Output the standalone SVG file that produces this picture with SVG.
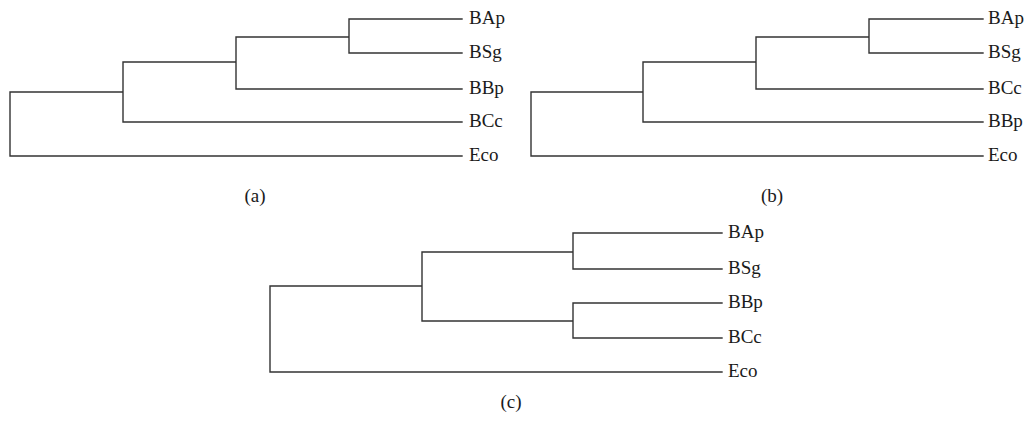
<svg xmlns="http://www.w3.org/2000/svg" width="1026" height="423" viewBox="0 0 1026 423">
<style>
.e{fill:none;stroke:#333;stroke-width:1.4;stroke-linecap:square}
.t{font-family:"Liberation Serif",serif;font-size:19px;fill:#1a1a1a}
.c{font-family:"Liberation Serif",serif;font-size:19px;fill:#1a1a1a;text-anchor:middle}
</style>
<rect width="1026" height="423" fill="#fff"/>
<g id="connectors">
<path class="e" d="M349,19H462M349,53H462M349,19V53M236,37H349M236,89H462M236,37V89M123,62H236M123,122H462M123,62V122M10,92H123M10,156H462M10,92V156"/>
<path class="e" d="M869,19H983M869,53H983M869,19V53M756,37H869M756,89H983M756,37V89M643,62H756M643,122H983M643,62V122M531,92H643M531,156H983M531,92V156"/>
<path class="e" d="M573,233H722M573,269H722M573,233V269M573,303H722M573,338H722M573,303V338M422,252H573M422,321H573M422,252V321M270,286H422M270,372H722M270,286V372"/>
</g>
<g id="tree-a">
<text class="t" x="469" y="24">BAp</text>
<text class="t" x="469" y="58">BSg</text>
<text class="t" x="469" y="94">BBp</text>
<text class="t" x="469" y="127">BCc</text>
<text class="t" x="469" y="161">Eco</text>
<text class="c" x="255" y="202">(a)</text>
</g>
<g id="tree-b">
<text class="t" x="988" y="24">BAp</text>
<text class="t" x="988" y="58">BSg</text>
<text class="t" x="988" y="94">BCc</text>
<text class="t" x="988" y="127">BBp</text>
<text class="t" x="988" y="161">Eco</text>
<text class="c" x="772" y="202">(b)</text>
</g>
<g id="tree-c">
<text class="t" x="728" y="238">BAp</text>
<text class="t" x="728" y="274">BSg</text>
<text class="t" x="728" y="308">BBp</text>
<text class="t" x="728" y="343">BCc</text>
<text class="t" x="728" y="377">Eco</text>
<text class="c" x="511" y="408">(c)</text>
</g>
</svg>
